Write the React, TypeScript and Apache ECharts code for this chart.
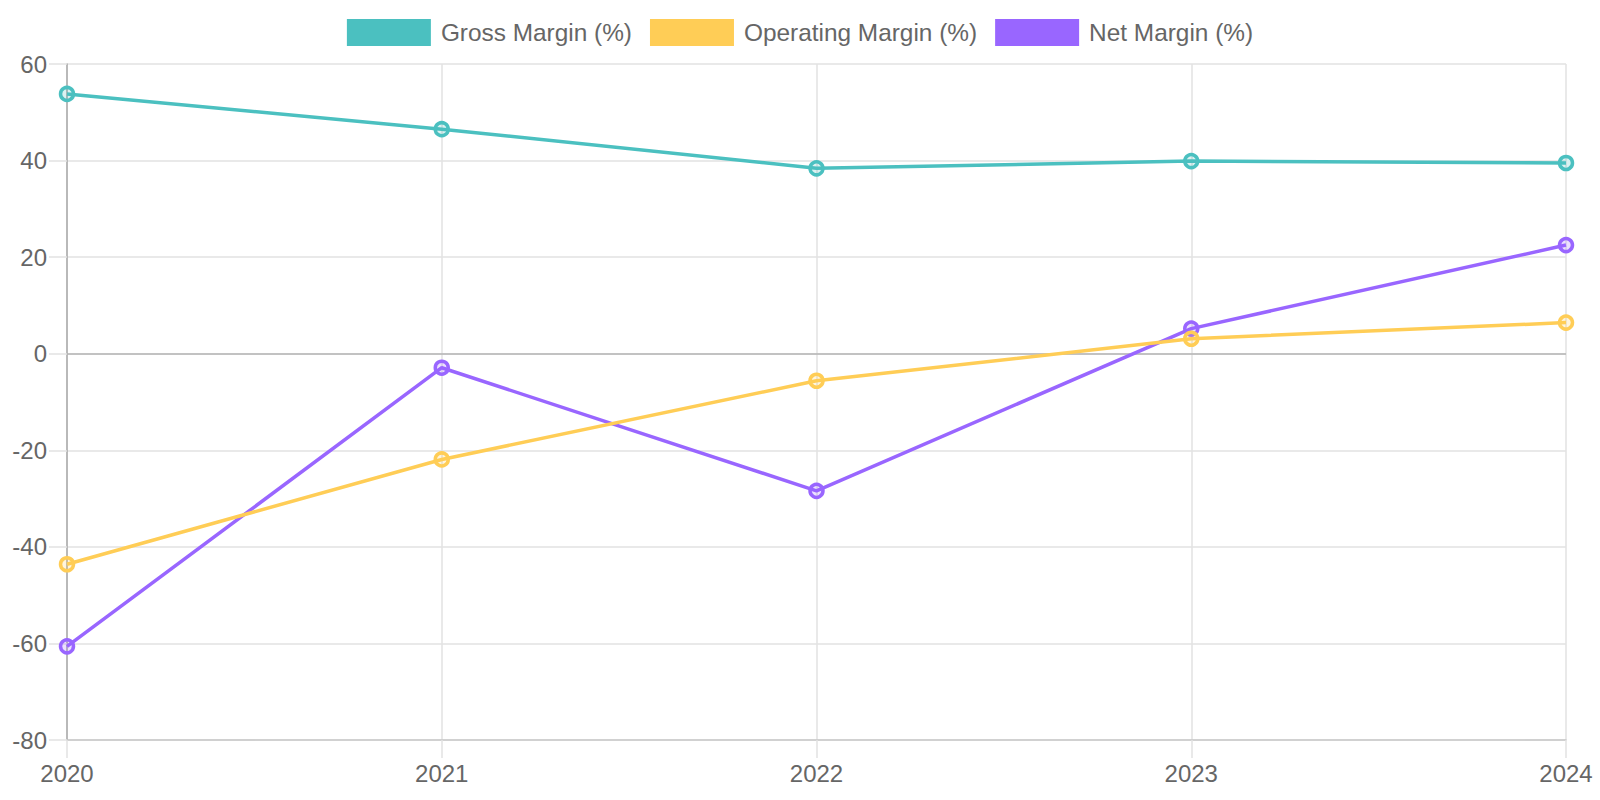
import React, { useEffect, useRef } from "react";
import * as echarts from "echarts";

const years = ["2020", "2021", "2022", "2023", "2024"];
const grossMargin = [53.8, 46.5, 38.4, 39.9, 39.5];
const operatingMargin = [-43.6, -21.9, -5.6, 3.1, 6.45];
const netMargin = [-60.6, -2.9, -28.4, 5.2, 22.5];

const seriesDefs = [
  { name: "Gross Margin (%)", data: grossMargin, rgb: "75,192,192" },
  { name: "Operating Margin (%)", data: operatingMargin, rgb: "255,205,86" },
  { name: "Net Margin (%)", data: netMargin, rgb: "153,102,255" },
];

const FONT = "'Liberation Sans', Arial, Helvetica, sans-serif";

export default function App() {
  const ref = useRef<HTMLDivElement>(null);
  useEffect(() => {
    document.body.style.margin = "0";
    if (!ref.current) return;
    const chart = echarts.init(ref.current, undefined, { renderer: "svg" });
    const series: any[] = seriesDefs.map((s, i) => ({
      name: s.name,
      type: "line",
      data: s.data,
      z: 10 - i,
      symbol: "circle",
      symbolSize: 13,
      showSymbol: true,
      lineStyle: { color: `rgb(${s.rgb})`, width: 3.5 },
      itemStyle: {
        color: `rgba(${s.rgb},0.2)`,
        borderColor: `rgb(${s.rgb})`,
        borderWidth: 3.5,
      },
      emphasis: { disabled: true },
    }));
    series[0].markLine = {
      silent: true,
      symbol: ["none", "none"],
      label: { show: false },
      lineStyle: { color: "#b4b4b4", width: 1.5, type: "solid" },
      data: [{ yAxis: 0 }],
      z: 1,
    };
    chart.setOption({
      animation: false,
      textStyle: { fontFamily: FONT },
      legend: {
        top: 14,
        left: "center",
        itemWidth: 84,
        itemHeight: 27,
        itemGap: 18,
        icon: "rect",
        textStyle: {
          fontFamily: FONT,
          fontSize: 24.4,
          color: "#666",
          padding: [0, 0, 0, 5],
        },
        data: seriesDefs.map((s) => ({
          name: s.name,
          itemStyle: { color: `rgb(${s.rgb})`, borderWidth: 0 },
        })),
      },
      grid: { left: 67, right: 34, top: 64, bottom: 60, containLabel: false },
      xAxis: {
        type: "category",
        data: years,
        boundaryGap: false,
        axisLine: { onZero: false, lineStyle: { color: "#c8c8c8", width: 1.5 } },
        axisTick: { show: true, length: 18, alignWithLabel: true, lineStyle: { color: "#e2e2e2", width: 1.5 } },
        axisLabel: { fontFamily: FONT, fontSize: 24, color: "#666", margin: 21 },
        splitLine: { show: true, lineStyle: { color: "#e2e2e2", width: 1.5 } },
      },
      yAxis: {
        type: "value",
        min: -80,
        max: 60,
        interval: 20,
        axisLine: { show: true, lineStyle: { color: "#a8a8a8", width: 1.5 } },
        axisTick: { show: true, length: 18, lineStyle: { color: "#e2e2e2", width: 1.5 } },
        axisLabel: { fontFamily: FONT, fontSize: 24, color: "#666", margin: 20 },
        splitLine: { show: true, lineStyle: { color: "#e2e2e2", width: 1.5 } },
      },
      series,
    });
    return () => chart.dispose();
  }, []);
  return <div ref={ref} style={{ width: 1600, height: 800 }} />;
}
